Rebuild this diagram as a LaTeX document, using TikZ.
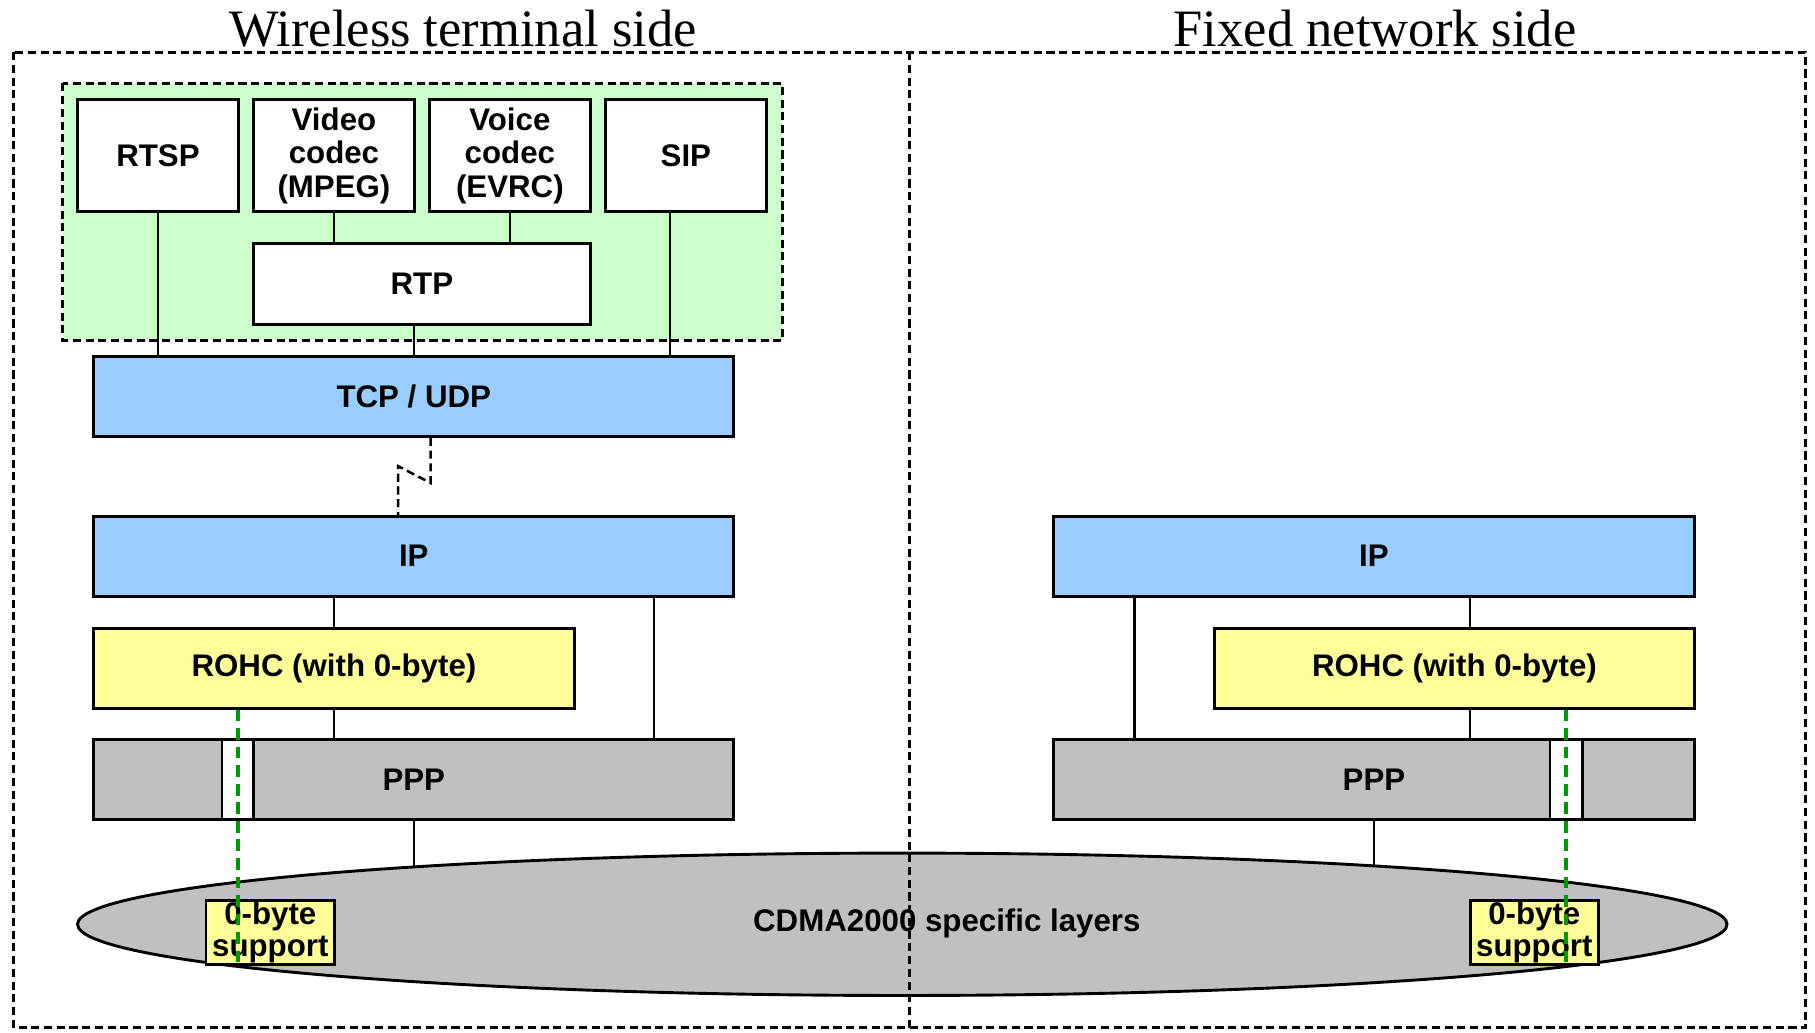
\documentclass[tikz,border=0pt]{standalone}
\usepackage{fontspec}
\setmainfont{Liberation Serif}
\setsansfont{Liberation Sans}
\usetikzlibrary{calc,backgrounds,shapes.geometric}
\definecolor{appgreen}{HTML}{CCFFCC}
\definecolor{laybluefill}{HTML}{99CCFF}
\definecolor{layyellow}{HTML}{FFFF99}
\definecolor{laygray}{HTML}{C0C0C0}
\definecolor{zerogreen}{HTML}{009900}
\begin{document}
\begin{tikzpicture}[x=0.5pt,y=-0.5pt,
  lay/.style={draw, line width=1.25pt, inner sep=0pt, align=center,
    font=\sffamily\bfseries\fontsize{13.5}{14.5}\selectfont},
  appbox/.style={lay, fill=white, minimum width=69.5pt, minimum height=48.5pt},
  bar/.style={lay, minimum height=34.5pt},
  slot/.style={draw, line width=1pt, fill=white, inner sep=0pt, minimum height=34.5pt},
  zerobox/.style={lay, fill=layyellow, minimum width=55.5pt, minimum height=27.5pt,
    font=\sffamily\bfseries\fontsize{13.5}{14}\selectfont},
  conn/.style={line width=1pt},
  framedash/.style={line width=1.25pt, dash pattern=on 3.5pt off 2pt},
  zerodash/.style={line width=1.6pt, zerogreen, dash pattern=on 5pt off 3pt},
  title/.style={font=\fontsize{22.7}{25}\selectfont, inner sep=0pt, anchor=base}]
\useasboundingbox (0,0) rectangle (1568,892);

% titles
\node[title] (tleft) at (400,40) {Wireless terminal side};
\node[title] (tright) at (1188,40) {Fixed network side};

% application layer boxes
\node[appbox] (rtsp) at (136.5,134.5) {RTSP};
\node[appbox] (video) at (288.5,134.5) {Video\\codec\\(MPEG)};
\node[appbox] (voice) at (440.5,134.5) {Voice\\codec\\(EVRC)};
\node[appbox] (sip) at (592.5,134.5) {SIP};
\node[bar, fill=white, minimum width=145.5pt, minimum height=35pt] (rtp) at (364.5,245) {RTP};

% left stack
\node[bar, fill=laybluefill, minimum width=276.5pt] (tcp) at (357.5,342.5) {TCP / UDP};
\node[bar, fill=laybluefill, minimum width=276.5pt] (ipl) at (357.5,480.5) {IP};
\node[bar, fill=layyellow, minimum width=207.5pt] (rohcl) at (288.5,577.5) {ROHC (with 0-byte)};
\node[bar, fill=laygray, minimum width=276.5pt] (pppl) at (357.5,673.5) {PPP};
\node[slot, minimum width=13.5pt] (slotl) at (205.5,673.5) {};

% right stack
\node[bar, fill=laybluefill, minimum width=277pt] (ipr) at (1187,480.5) {IP};
\node[bar, fill=layyellow, minimum width=207.5pt] (rohcr) at (1256.5,577.5) {ROHC (with 0-byte)};
\node[bar, fill=laygray, minimum width=277pt] (pppr) at (1187,673.5) {PPP};
\node[slot, minimum width=14pt] (slotr) at (1353,673.5) {};

% radio layers
\node[ellipse, draw, line width=1.25pt, fill=laygray, inner sep=0pt,
  minimum width=712.5pt, minimum height=61.5pt] (cdma) at (779.5,798.5) {};

\begin{scope}[on background layer]
  \draw[framedash, fill=appgreen] (54,72) rectangle (676,294);
  \draw[conn] (rtsp.south) -- (rtsp.south |- tcp.north);
  \draw[conn] (video.south) -- (video.south |- rtp.north);
  \draw[conn] (voice.south) -- (voice.south |- rtp.north);
  \coordinate (sipfoot) at ($(sip.south)+(-13.5,0)$);
  \draw[conn] (sipfoot) -- (sipfoot |- tcp.north);
  \draw[conn] (tcp.north) -- (tcp.north |- rtp.south);
  \draw[conn] (rohcl.north) -- (rohcl.north |- ipl.south);
  \draw[conn] (rohcl.south) -- (rohcl.south |- pppl.north);
  \coordinate (ipppl) at ($(pppl.north)+(207.5,0)$);
  \draw[conn] (ipppl) -- (ipppl |- ipl.south);
  \draw[conn] (pppl.south) -- (pppl.south |- cdma.center);
  \coordinate (ipppr) at ($(pppr.north)+(-207,0)$);
  \draw[conn] (ipppr) -- (ipppr |- ipr.south);
  \coordinate (rohcrx) at ($(rohcr.north)+(13.5,0)$);
  \draw[conn] (rohcrx) -- (rohcrx |- ipr.south);
  \coordinate (rohcry) at ($(rohcr.south)+(13.5,0)$);
  \draw[conn] (rohcry) -- (rohcry |- pppr.north);
  \draw[conn] (pppr.south) -- (pppr.south |- cdma.center);
\end{scope}

% broken TCP/IP link
\coordinate (zza) at ($(tcp.south)+(14.5,0)$);
\coordinate (zzb) at ($(ipl.north)+(-13.5,0)$);
\draw[framedash, line width=1.1pt] (zza) -- ++(0,39) -- ($(zzb)+(0,-42)$) -- (zzb);

\node[zerobox] (zerol) at (233.5,805.5) {0-byte\\support};
\node[zerobox] (zeror) at (1325.5,805.5) {0-byte\\support};

\draw[zerodash] (slotl.center |- rohcl.south) -- (slotl.center |- zerol.south);
\draw[zerodash] (slotr.center |- rohcr.south) -- (slotr.center |- zeror.south);

% frames
\draw[framedash] (12,45) rectangle (1560,888);
\draw[framedash] (786,45) -- (786,888);

\node[font=\sffamily\bfseries\fontsize{13.5}{14.5}\selectfont, inner sep=0pt] (cdmatext) at (818,798) {CDMA2000 specific layers};
\end{tikzpicture}
\end{document}
